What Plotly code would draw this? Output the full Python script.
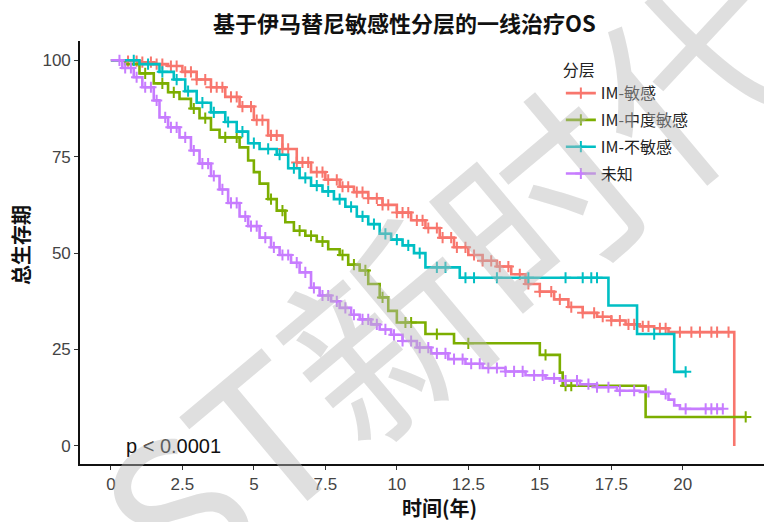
import plotly.graph_objects as go

# ---------------- data ----------------
groups = ["IM-敏感", "IM-中度敏感", "IM-不敏感", "未知"]
colors = ["#F8766D", "#7CAE00", "#00BFC4", "#C77CFF"]

red_t = [0, 0.5, 1.0, 1.5, 2.0, 2.5, 3.0, 3.5, 4.0, 4.5, 5.0, 5.5, 6.0, 6.5, 7.0, 7.5, 8.0, 8.5, 9.0, 9.5,
         10.0, 10.5, 11.0, 11.5, 12.0, 12.5, 13.0, 13.5, 14.0, 14.5, 15.0, 15.5, 16.0, 16.5, 17.0, 17.5,
         18.0, 18.5, 19.0, 19.5, 21.8]
red_s = [100, 99.8, 99.5, 99, 98.5, 97, 95, 93, 90.5, 88, 84.5, 80.5, 77, 73.5, 71, 69, 67.2, 65.8, 64.2, 62.5,
         60.5, 58.5, 56.5, 54, 51.5, 49.5, 48, 46.5, 44.5, 42, 40, 38, 36, 34.5, 33.5, 32.5,
         31.5, 31, 30.5, 29.5, 0]
red_c = [0.6, 0.9, 1.1, 1.4, 1.6, 1.8, 2.1, 2.3, 2.6, 2.8, 3.0, 3.3, 3.5, 3.7, 3.9, 4.2, 4.4, 4.6, 4.9,
         5.1, 5.3, 5.6, 5.8, 6.0, 6.2, 6.5, 6.7, 6.9, 7.2, 7.4, 7.6, 7.9, 8.1, 8.3, 8.6, 8.8, 9.0, 9.3,
         9.5, 9.7, 10.0, 10.2, 10.4, 10.7, 10.9, 11.1, 11.4, 11.6, 11.9, 12.1, 12.4, 12.7, 13.0, 13.3,
         13.6, 13.9, 14.3, 14.6, 15.0, 15.4, 15.7, 16.1, 16.5, 16.9, 17.2, 17.5, 17.8, 18.1, 18.3, 18.6,
         18.8, 19.2, 19.4, 19.9, 20.3, 20.6, 21.0, 21.2, 21.6]

green_t = [0, 0.5, 1.0, 1.5, 2.0, 2.4, 2.8, 3.1, 3.5, 3.8, 4.5, 4.8, 5.0, 5.2, 5.5, 5.8, 6.1, 6.4, 6.8,
           7.2, 7.6, 8.0, 8.3, 8.7, 9.0, 9.4, 9.7, 10.0, 11.0, 12.0, 15.0, 15.7, 15.8, 18.7]
green_s = [100, 99, 96.6, 94, 91.7, 90, 87.5, 85, 82, 80, 77.4, 74, 71, 68, 64, 61, 58, 55.8, 54.5,
           53, 51, 49.5, 47, 45.5, 42, 38.5, 35, 32, 29, 26.6, 23.6, 19, 15.6, 7.5]
green_c = [1.2, 1.8, 2.2, 2.9, 3.3, 4.0, 4.4, 5.6, 6.0, 6.6, 7.0, 7.4, 8.1, 8.5, 8.9, 9.5, 10.3, 10.5,
           11.4, 12.5, 15.2, 15.9, 16.1, 22.2]

cyan_t = [0, 1.0, 1.7, 2.2, 2.6, 3.0, 3.5, 4.0, 4.4, 4.8, 5.2, 5.8, 6.2, 6.6, 7.0, 7.4, 7.8, 8.2, 8.6,
          9.0, 9.4, 9.8, 10.2, 10.6, 11.0, 12.2, 17.4, 18.4, 19.7]
cyan_s = [100, 99, 97, 95, 92, 89, 86.5, 84, 81.5, 78.5, 77, 75.5, 72, 69.5, 67.5, 66, 64, 62, 59.5,
          57.5, 55, 53.5, 52, 50, 46.3, 43.6, 36.4, 29, 19.2]
cyan_c = [0.8, 1.3, 1.8, 2.3, 2.7, 3.2, 3.6, 4.1, 4.6, 5.0, 5.5, 5.9, 6.4, 6.8, 7.2, 7.6, 8.0, 8.4,
          8.8, 9.2, 9.6, 10.0, 10.4, 10.8, 11.4, 11.7, 12.4, 12.7, 13.5, 14.6, 15.9, 16.5, 16.8, 17.0,
          19.0, 20.1]

purple_t = [0, 0.4, 0.8, 1.1, 1.5, 1.7, 2.0, 2.4, 2.8, 3.1, 3.5, 3.8, 4.1, 4.5, 4.8, 5.2, 5.6, 5.9, 6.3,
            6.6, 7.0, 7.3, 7.7, 8.0, 8.4, 8.7, 9.1, 9.4, 9.8, 10.2, 10.7, 11.2, 11.8, 12.4, 13.0, 13.8,
            14.5, 15.2, 15.7, 16.4, 17.0, 17.7, 18.5, 19.3, 19.5, 19.7, 19.9]
purple_s = [100, 98, 95.6, 93, 89.6, 85.2, 82.6, 80, 76.6, 73.2, 70, 66.5, 63, 59.5, 57, 54, 51.5, 49.5,
            47.5, 45, 41, 39, 37.5, 35.8, 34, 32.8, 31.5, 30.2, 28.8, 27.2, 25.5, 24, 22.5, 21.3, 20.2,
            19.3, 18.3, 17.5, 16.9, 16, 15.2, 14.3, 14, 13.5, 12, 10.5, 9.6]
purple_c = [0.3, 0.5, 0.7, 0.9, 1.2, 1.4, 1.6, 1.9, 2.1, 2.3, 2.6, 2.9, 3.2, 3.4, 3.6, 3.9, 4.2, 4.4,
            4.7, 4.9, 5.1, 5.4, 5.7, 6.0, 6.2, 6.5, 6.8, 7.1, 7.4, 7.6, 7.9, 8.2, 8.5, 8.8, 9.0, 9.3,
            9.6, 9.9, 10.2, 10.5, 10.8, 11.1, 11.4, 11.7, 12.0, 12.3, 12.6, 12.9, 13.2, 13.5, 13.8,
            14.1, 14.4, 14.8, 15.1, 15.5, 15.9, 16.3, 16.7, 17.0, 17.4, 17.8, 18.3, 18.8, 19.4, 20.1,
            20.8, 21.0, 21.2, 21.4]

x_ticks = [0, 2.5, 5, 7.5, 10, 12.5, 15, 17.5, 20]
x_tick_labels = ["0", "2.5", "5", "7.5", "10", "12.5", "15", "17.5", "20"]
y_ticks = [0, 25, 50, 75, 100]

series = [(red_t, red_s, red_c), (green_t, green_s, green_c),
          (cyan_t, cyan_s, cyan_c), (purple_t, purple_s, purple_c)]


def surv_at(ts, ss, t):
    v = ss[0]
    for ti, si in zip(ts, ss):
        if ti <= t:
            v = si
        else:
            break
    return v


fig = go.Figure()
for name, col, (ts, ss, cs) in zip(groups, colors, series):
    end_t = max(ts[-1], max(cs))
    xs = list(ts) + [end_t]
    ys = list(ss) + [ss[-1]]
    fig.add_trace(go.Scatter(x=xs, y=ys, mode="lines", line=dict(color=col, width=2.6, shape="hv"),
                             showlegend=False, legendgroup=name, hoverinfo="skip"))
    fig.add_trace(go.Scatter(x=cs, y=[surv_at(ts, ss, c) for c in cs], mode="markers",
                             marker=dict(symbol="cross-thin", size=8, line=dict(color=col, width=2)),
                             showlegend=False, legendgroup=name, hoverinfo="skip"))
    fig.add_trace(go.Scatter(x=[None], y=[None], mode="lines+markers", name=name, legendgroup=name,
                             line=dict(color=col, width=2.6),
                             marker=dict(symbol="cross-thin", size=8, line=dict(color=col, width=2))))

font_cjk = "Noto Sans CJK SC, Liberation Sans, Arial, sans-serif"
font_num = "Liberation Sans, Arial, sans-serif"

fig.update_layout(
    width=764, height=522,
    margin=dict(l=80, r=0, t=41, b=58),
    plot_bgcolor="white", paper_bgcolor="white",
    font=dict(family=font_cjk, size=16, color="#222222"),
    showlegend=True,
    legend=dict(x=0.703, y=0.966, xanchor="left", yanchor="top", bgcolor="rgba(0,0,0,0)",
                title=dict(text="分层", font=dict(size=16, color="#222222")),
                font=dict(size=16, color="#222222"), tracegroupgap=3, itemwidth=30),
    xaxis=dict(range=[-1.08, 22.84], tickmode="array", tickvals=x_ticks, ticktext=x_tick_labels,
               showgrid=False, zeroline=False, showline=True, linecolor="#111111", linewidth=1.6,
               ticks="outside", ticklen=4, tickwidth=1.3, tickcolor="#333333",
               tickfont=dict(size=17, color="#444444", family=font_num)),
    yaxis=dict(range=[-4.7, 105], tickmode="array", tickvals=y_ticks,
               showgrid=False, zeroline=False, showline=True, linecolor="#111111", linewidth=1.6,
               ticks="outside", ticklen=4, tickwidth=1.3, tickcolor="#333333",
               tickfont=dict(size=17, color="#444444", family=font_num)),
)

anns = [
    dict(text="<b>基于伊马替尼敏感性分层的一线治疗OS</b>", xref="paper", yref="paper",
         x=(404 - 80) / 684, y=1 + (41 - 22) / 423, xanchor="center", yanchor="middle",
         showarrow=False, font=dict(size=22, color="#111111", family=font_cjk)),
    dict(text="<b>总生存期</b>", xref="paper", yref="paper", x=(20 - 80) / 684, y=(464 - 245) / 423,
         xanchor="center", yanchor="middle", textangle=-90, showarrow=False,
         font=dict(size=20, color="#111111", family=font_cjk)),
    dict(text="<b>时间(年)</b>", xref="paper", yref="paper", x=(439 - 80) / 684, y=-(507 - 464) / 423,
         xanchor="center", yanchor="middle", showarrow=False,
         font=dict(size=20, color="#111111", family=font_cjk)),
    dict(text="p < 0.0001", xref="x", yref="y", x=0.45, y=0, xanchor="left", yanchor="middle",
         showarrow=False, font=dict(size=20, color="#111111", family=font_num)),
    dict(text="ST新时代", xref="paper", yref="paper", x=(445 - 80) / 684, y=(464 - 272) / 423,
         xanchor="center", yanchor="middle", textangle=-40, showarrow=False,
         font=dict(size=200, color="rgba(185,185,185,0.45)", family=font_cjk)),
]
fig.update_layout(annotations=anns)

fig.write_html("out.html")
